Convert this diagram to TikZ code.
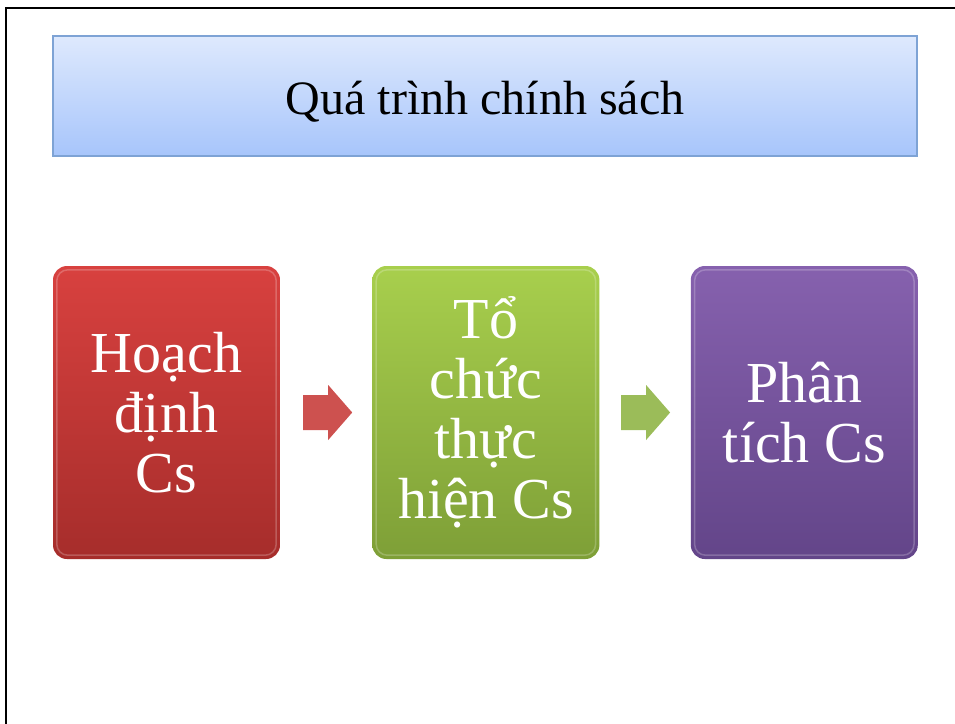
\documentclass[tikz,border=0pt]{standalone}
\usepackage{fontspec}
\setmainfont{Liberation Serif}
\usetikzlibrary{positioning,calc}

\definecolor{titletop}{RGB}{222,233,253}
\definecolor{titlebot}{RGB}{167,197,251}
\definecolor{titleline}{RGB}{126,163,213}
\definecolor{redtop}{RGB}{216,65,63}
\definecolor{redbot}{RGB}{166,45,43}
\definecolor{greentop}{RGB}{168,207,77}
\definecolor{greenbot}{RGB}{126,159,55}
\definecolor{purpletop}{RGB}{134,97,174}
\definecolor{purplebot}{RGB}{99,69,137}
\definecolor{arrowred}{RGB}{205,81,79}
\definecolor{arrowgreen}{RGB}{155,188,89}

\tikzset{
  stagebox/.style={rounded corners=14pt, minimum width=227pt, minimum height=293pt,
    inner sep=0pt, align=center, text=white, font=\fontsize{58}{60}\selectfont},
  blockarrow/.pic={
    \fill[#1] (-24.5,-17.5) -- (0.5,-17.5) -- (0.5,-27.5) -- (24.5,0)
      -- (0.5,27.5) -- (0.5,17.5) -- (-24.5,17.5) -- cycle;
  }
}

\begin{document}
\begin{tikzpicture}[x=1pt,y=-1pt]
    \useasboundingbox (0,0) rectangle (955,723);

    %Slide frame, top and left edge
    \draw [line width=2.2pt, line cap=rect] (6,723) -- (6,8) -- (955,8) ;

    % Title Node
    \node (title) [draw=titleline, line width=1.2pt, top color=titletop, bottom color=titlebot,
        minimum width=864pt, minimum height=120pt, inner sep=0pt, text depth=0pt,
        font=\fontsize{48}{52}\selectfont]
        at (485,96) {\raisebox{-4pt}{Quá trình chính sách}};

    % Stage Nodes
    \node (hoach) [stagebox, top color=redtop, bottom color=redbot] at (166.5,412.5)
        {Hoạch\\định\\Cs};
    \node (tochuc) [stagebox, top color=greentop, bottom color=greenbot, right=92pt of hoach]
        {Tổ\\chức\\thực\\hiện Cs};
    \node (phantich) [stagebox, top color=purpletop, bottom color=purplebot, right=91pt of tochuc]
        {Phân\\tích Cs};

    %Bevel highlight on the box sides
    \foreach \n in {hoach,tochuc,phantich}{
        \draw [white, opacity=0.22, line width=1.5pt, rounded corners=11pt]
            ([shift={(4,4)}]\n.north west) rectangle ([shift={(-4,-4)}]\n.south east) ;
    }

    %Block arrows between the stages
    \coordinate (a1) at ($(hoach.east)!0.5!(tochuc.west)$);
    \coordinate (a2) at ($(tochuc.east)!0.5!(phantich.west)$);
    \pic at ([xshift=1.5pt]a1) {blockarrow=arrowred};
    \pic at ([xshift=0.5pt]a2) {blockarrow=arrowgreen};

\end{tikzpicture}
\end{document}
